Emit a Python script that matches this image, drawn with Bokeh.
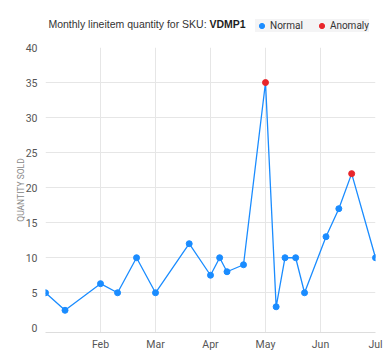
import calendar
from bokeh.plotting import figure
from bokeh.layouts import column
from bokeh.models import (Range1d, FixedTicker, Label, Legend, LegendItem,
                          ColumnDataSource)
from bokeh.embed import file_html
from bokeh.resources import INLINE

# ---- data ----
dates = ["2024-01-01", "2024-01-12", "2024-02-01", "2024-02-10", "2024-02-20",
         "2024-03-01", "2024-03-20", "2024-04-01", "2024-04-06", "2024-04-10",
         "2024-04-19", "2024-05-01", "2024-05-07", "2024-05-12", "2024-05-18",
         "2024-05-23", "2024-06-04", "2024-06-11", "2024-06-18", "2024-07-01"]
quantity = [5, 2.5, 6.3, 5, 10, 5, 12, 7.5, 10, 8, 9, 35, 3, 10, 10, 5, 13, 17, 22, 10]
status = ["Normal"] * 11 + ["Anomaly"] + ["Normal"] * 6 + ["Anomaly"] + ["Normal"]
month_ticks = [0, 1, 2, 3, 4, 5, 6]
month_labels = ["", "Feb", "Mar", "Apr", "May", "Jun", "Jul"]
y_ticks = [0, 5, 10, 15, 20, 25, 30, 35, 40]
title_text = "Monthly lineitem quantity for SKU: "
sku = "VDMP1"
legend_labels = ["Normal", "Anomaly"]

FONT = "Roboto"
TITLE_FONT = "Liberation Sans"
BLUE = "#1a8cff"
RED = "#e8262b"
W = 390
HEADER_H = 40
LEFT, RIGHT = 45, 15
FW, FH = W - LEFT - RIGHT, 285


def month_pos(d):
    y, m, day = (int(v) for v in d.split("-"))
    return (m - 1) + (day - 1) / calendar.monthrange(y, m)[1]


xs = [month_pos(d) for d in dates]
src_all = ColumnDataSource(dict(x=xs, y=quantity))
src_norm = ColumnDataSource(dict(
    x=[x for x, s in zip(xs, status) if s == "Normal"],
    y=[q for q, s in zip(quantity, status) if s == "Normal"]))
src_anom = ColumnDataSource(dict(
    x=[x for x, s in zip(xs, status) if s == "Anomaly"],
    y=[q for q, s in zip(quantity, status) if s == "Anomaly"]))

# ---------------- header: title + legend ----------------
hdr = figure(width=W, height=HEADER_H, output_backend="svg", toolbar_location=None,
             x_range=Range1d(0, 1), y_range=Range1d(0, 1),
             x_axis_type=None, y_axis_type=None, min_border=0)
hdr.grid.visible = False
hdr.outline_line_color = None
hdr.background_fill_color = "white"
hdr.border_fill_color = "white"

# two labels joined at one point: regular part right-aligned, bold part left-aligned
JOIN_X, TITLE_Y = 164, 17
t1 = Label(x=JOIN_X, y=TITLE_Y, x_units="screen", y_units="screen",
           text=title_text.rstrip() + "\u00a0", text_font=TITLE_FONT,
           text_font_size="10.5px", text_color="#333333",
           text_align="right", text_baseline="middle")
t2 = Label(x=JOIN_X, y=TITLE_Y, x_units="screen", y_units="screen",
           text=sku, text_font=TITLE_FONT, text_font_size="10.5px",
           text_font_style="bold", text_color="#1e1e1e",
           text_align="left", text_baseline="middle")
hdr.add_layout(t1)
hdr.add_layout(t2)

# legend swatch proxies (not drawn: NaN position)
nan = float("nan")
h_norm = hdr.scatter(x=[nan], y=[nan], size=6, color=BLUE)
h_anom = hdr.scatter(x=[nan], y=[nan], size=6, color=RED)
legend = Legend(items=[LegendItem(label=legend_labels[0], renderers=[h_norm]),
                       LegendItem(label=legend_labels[1], renderers=[h_anom])],
                location=(210, 8), orientation="horizontal",
                background_fill_color="#f4f4f5", background_fill_alpha=1,
                border_line_color=None, padding=3, spacing=12, margin=0,
                glyph_width=13, glyph_height=13, label_standoff=2,
                label_height=12, label_text_font=FONT,
                label_text_font_size="10px", label_text_color="#333333")
hdr.add_layout(legend)

# ---------------- main chart ----------------
p = figure(frame_width=FW, frame_height=FH, output_backend="svg",
           toolbar_location=None,
           x_range=Range1d(0, 6), y_range=Range1d(-0.67, 40),
           min_border_left=LEFT, min_border_right=RIGHT, min_border_top=7,
           min_border_bottom=26)
p.background_fill_color = "white"
p.border_fill_color = "white"
p.outline_line_color = None

p.line("x", "y", source=src_all, line_color=BLUE, line_width=1.3)
p.scatter("x", "y", source=src_norm, size=6, color=BLUE)
p.scatter("x", "y", source=src_anom, size=6, color=RED)

p.xaxis.ticker = FixedTicker(ticks=month_ticks)
p.xaxis.major_label_overrides = {t: l for t, l in zip(month_ticks, month_labels)}
p.yaxis.ticker = FixedTicker(ticks=y_ticks)
for ax in (p.xaxis, p.yaxis):
    ax.major_tick_line_color = None
    ax.minor_tick_line_color = None
    ax.major_tick_out = 0
    ax.major_tick_in = 0
    ax.minor_tick_out = 0
    ax.major_label_text_font = FONT
    ax.major_label_text_font_size = "10.5px"
    ax.major_label_text_color = "#555555"
p.xaxis.axis_line_color = "#dddddd"
p.yaxis.axis_line_color = None
p.xaxis.major_label_standoff = 5
p.yaxis.major_label_standoff = 8
p.yaxis.axis_label = "QUANTITY SOLD"
p.yaxis.axis_label_text_font = FONT
p.yaxis.axis_label_text_font_size = "8.5px"
p.yaxis.axis_label_text_font_style = "normal"
p.yaxis.axis_label_text_color = "#888888"
p.yaxis.axis_label_standoff = -3

p.xgrid.ticker = FixedTicker(ticks=month_ticks)
p.ygrid.ticker = FixedTicker(ticks=y_ticks[1:])
p.xgrid.grid_line_color = "#e6e6e6"
p.ygrid.grid_line_color = "#e6e6e6"

layout = column(hdr, p, spacing=0)
open("out.html", "w").write(file_html(layout, INLINE))
